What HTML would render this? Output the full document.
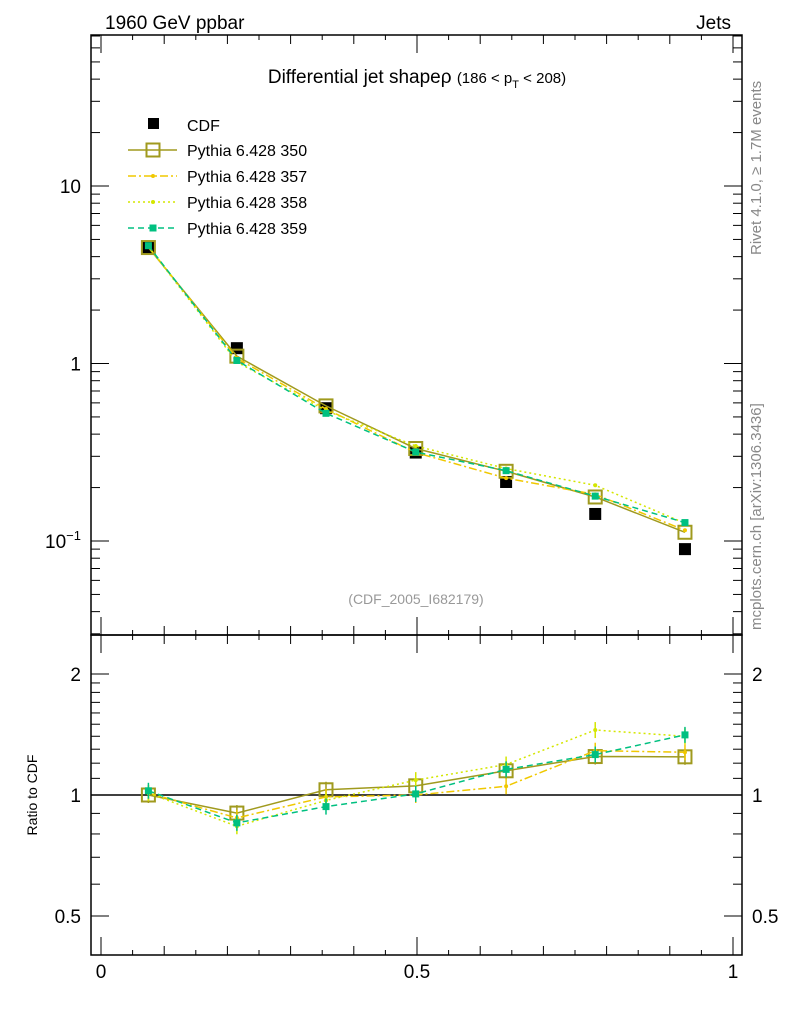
<!DOCTYPE html>
<html><head><meta charset="utf-8"><style>
body{margin:0;background:#fff}
svg{font-family:"Liberation Sans",sans-serif}
</style></head><body>
<svg id="c" width="786" height="1024" xmlns="http://www.w3.org/2000/svg">
<text x="105" y="29" font-size="19">1960 GeV ppbar</text>
<text x="731" y="29" font-size="19" text-anchor="end">Jets</text>
<text x="417" y="83" font-size="19" text-anchor="middle">Differential jet shapeρ <tspan font-size="15">(186 &lt; p</tspan><tspan font-size="11" dy="5">T</tspan><tspan font-size="15" dy="-5"> &lt; 208)</tspan></text>
<text x="416" y="604" font-size="14" fill="#999" text-anchor="middle">(CDF_2005_I682179)</text>
<text transform="translate(761,255) rotate(-90)" font-size="15" fill="#888">Rivet 4.1.0, ≥ 1.7M events</text>
<text transform="translate(761,630) rotate(-90)" font-size="15" fill="#888">mcplots.cern.ch [arXiv:1306.3436]</text>
<text transform="translate(37,795) rotate(-90)" font-size="14" text-anchor="middle">Ratio to CDF</text>
<g id="axes"></g>
<g id="marks"></g>
<g id="legend"></g>
</svg>
<script>
const xs=[0.075,0.215,0.356,0.498,0.641,0.782,0.924];
const cdf=[4.5,1.22,0.56,0.315,0.215,0.142,0.09];
const p350=[4.5,1.10,0.577,0.332,0.247,0.177,0.112];
const p357=[4.55,1.07,0.554,0.315,0.226,0.183,0.115];
const p358=[4.55,1.02,0.543,0.343,0.256,0.206,0.126];
const p359=[4.61,1.04,0.524,0.317,0.249,0.179,0.127];
const seriesNames=["Pythia 6.428 350","Pythia 6.428 357","Pythia 6.428 358","Pythia 6.428 359"];
const xTicks=[0,0.5,1];
const NS="http://www.w3.org/2000/svg";
const L=91,R=742,T=35,M=635,B=955;
const X=v=>101+632*v;
const Y=v=>186-177.5*(Math.log10(v)-1);
const YR=r=>795-121*Math.log2(r);
function mk(tag,at,par){const e=document.createElementNS(NS,tag);for(const k in at)e.setAttribute(k,at[k]);par.appendChild(e);return e;}
const ax=document.getElementById('axes'),mg=document.getElementById('marks'),lg=document.getElementById('legend');
let f=mk('rect',{x:L,y:T,width:R-L,height:M-T,fill:'none',stroke:'#000','stroke-width':1.5},ax);

f=mk('rect',{x:L,y:M,width:R-L,height:B-M,fill:'none',stroke:'#000','stroke-width':1.5},ax);

for(let d=-2;d<=1;d++)for(let m=1;m<=9;m++){const v=m*Math.pow(10,d);const y=Y(v);if(y<T||y>M)continue;const len=m==1?18:9;
mk('line',{x1:L,x2:L+len,y1:y,y2:y,stroke:'#000'},ax);mk('line',{x1:R,x2:R-len,y1:y,y2:y,stroke:'#000'},ax);}
const yl=[[10,'10'],[1,'1']];
for(const [v,s] of yl){const t=mk('text',{x:81,y:Y(v)+7,'font-size':19,'text-anchor':'end'},ax);t.textContent=s;}
let t=mk('text',{x:81,y:Y(0.1)+7,'font-size':19,'text-anchor':'end'},ax);t.innerHTML='10<tspan font-size="13" dy="-8">−1</tspan>';

for(const r of [0.5,0.6,0.7,0.8,0.9,1,1.1,1.2,1.3,1.4,1.5,1.6,1.7,1.8,1.9,2]){const y=YR(r);const len=(r==0.5||r==1||r==2)?18:9;
mk('line',{x1:L,x2:L+len,y1:y,y2:y,stroke:'#000'},ax);mk('line',{x1:R,x2:R-len,y1:y,y2:y,stroke:'#000'},ax);}
for(const [r,s] of [[2,'2'],[1,'1'],[0.5,'0.5']]){
t=mk('text',{x:81,y:YR(r)+7,'font-size':19,'text-anchor':'end'},ax);t.textContent=s;
t=mk('text',{x:752,y:YR(r)+7,'font-size':19},ax);t.textContent=s;}
for(let i=0;i<=20;i++){const v=i*0.05;const x=X(v);const len=i%10==0?18:(i%2==0?9:5);
for(const [y0,dir] of [[T,1],[M,-1],[M,1],[B,-1]])mk('line',{x1:x,x2:x,y1:y0,y2:y0+dir*len,stroke:'#000'},ax);}
for(const v of xTicks){t=mk('text',{x:X(v),y:978,'font-size':19,'text-anchor':'middle'},ax);t.textContent=String(v);}
let l=mk('line',{x1:L,x2:R,y1:YR(1),y2:YR(1),stroke:'#000','stroke-width':1.5},ax);

const styles=[{c:'#a09a1e',d:'',m:'box',w:1.5},{c:'#f0c800',d:'8,3,2,3',m:'dot',w:1.5},{c:'#d4e600',d:'2,3',m:'dot',w:1.5},{c:'#00c080',d:'6,4',m:'sq',w:1.5}];
const all=[p350,p357,p358,p359];
function marker(s,x,y,g){if(s.m=='box')mk('rect',{x:x-6.5,y:y-6.5,width:13,height:13,fill:'none',stroke:s.c,'stroke-width':2},g);
else if(s.m=='sq')mk('rect',{x:x-3.5,y:y-3.5,width:7,height:7,fill:s.c},g);else mk('circle',{cx:x,cy:y,r:2,fill:s.c},g);}
cdf.forEach((v,i)=>{const r=mk('rect',{x:X(xs[i])-6,y:Y(v)-6,width:12,height:12,fill:'#000'},mg);
});
all.forEach((arr,k)=>{const s=styles[k];
const g=mk('g',{},mg);
const pts=arr.map((v,i)=>X(xs[i])+','+Y(v)).join(' ');
mk('polyline',{points:pts,fill:'none',stroke:s.c,'stroke-width':s.w,'stroke-dasharray':s.d},g);
const rp=arr.map((v,i)=>X(xs[i])+','+YR(v/cdf[i])).join(' ');
mk('polyline',{points:rp,fill:'none',stroke:s.c,'stroke-width':s.w,'stroke-dasharray':s.d},g);
arr.forEach((v,i)=>{marker(s,X(xs[i]),Y(v),g);const yr=YR(v/cdf[i]);
mk('line',{x1:X(xs[i]),x2:X(xs[i]),y1:yr-8,y2:yr+8,stroke:s.c,'stroke-width':1.5},g);marker(s,X(xs[i]),yr,g);});
});
let e=mk('rect',{x:148,y:118,width:11,height:11,fill:'#000'},lg);

t=mk('text',{x:187,y:131,'font-size':16},lg);t.textContent='CDF';
seriesNames.forEach((n,k)=>{const s=styles[k];const y=150+26*k;
mk('line',{x1:128,x2:177,y1:y,y2:y,stroke:s.c,'stroke-width':1.5,'stroke-dasharray':s.d},lg);marker(s,153,y,lg);
const tt=mk('text',{x:187,y:y+6,'font-size':16},lg);tt.textContent=n;
});
</script>
</body></html>
